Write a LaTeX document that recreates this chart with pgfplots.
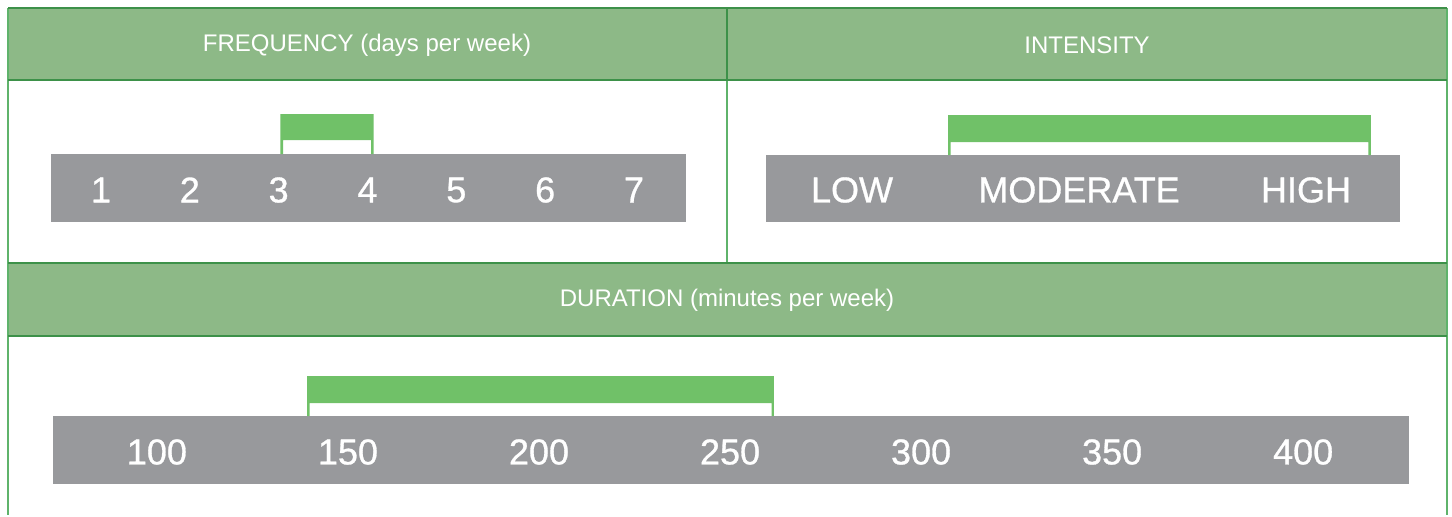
\documentclass[border=0pt]{standalone}
\usepackage{pgfplots}
\pgfplotsset{compat=1.18}
\usepackage{fontspec}
\setmainfont{Liberation Sans}
\newfontfamily\labelfont{Liberation Sans}[FakeBold=0.8]
\definecolor{hdrfill}{HTML}{8DB987}
\definecolor{hdrline}{HTML}{3D9149}
\definecolor{frameline}{HTML}{5FB36B}
\definecolor{brgreen}{HTML}{70C168}
\definecolor{bargray}{HTML}{98999C}
\pgfplotsset{
  scalebar/.style={
    scale only axis, anchor=south west, clip=false,
    ymin=0, ymax=1,
    axis background/.style={fill=bargray},
    axis line style={draw=none},
    major tick length=0pt, tick style={draw=none},
    ytick=\empty,
    xticklabel style={anchor=center, yshift=16pt, text=white, font=\labelfont\fontsize{18}{20}\selectfont},
  },
  bracket/.style={fill=brgreen, draw=none, mark=none},
}
\begin{document}
\begin{tikzpicture}
% background frame (pixel coordinates of a 1452 x 515 picture)
\begin{axis}[at={(0pt,0pt)}, anchor=north west, scale only axis,
  width=726pt, height=257.5pt, xmin=0, xmax=1452, ymin=0, ymax=515,
  y dir=reverse, hide axis, clip=false]
  \fill[white] (axis cs:0,0) rectangle (axis cs:1452,515);
  \fill[hdrfill] (axis cs:8,8) rectangle (axis cs:1447,80);
  \fill[hdrfill] (axis cs:8,263) rectangle (axis cs:1447,336);
  \draw[frameline, line width=1.1pt] (axis cs:8,8) -- (axis cs:8,515);
  \draw[frameline, line width=1.1pt] (axis cs:1447,8) -- (axis cs:1447,515);
  \draw[frameline, line width=1.1pt] (axis cs:727,80) -- (axis cs:727,263);
  \draw[hdrline, line width=1.1pt] (axis cs:8,8) -- (axis cs:1447,8);
  \draw[hdrline, line width=1.1pt] (axis cs:8,80) -- (axis cs:1447,80);
  \draw[hdrline, line width=1.1pt] (axis cs:727,8) -- (axis cs:727,80);
  \draw[hdrline, line width=1.1pt] (axis cs:8,263) -- (axis cs:1447,263);
  \draw[hdrline, line width=1.1pt] (axis cs:8,336) -- (axis cs:1447,336);
  \node[text=white, font=\fontsize{12}{14}\selectfont] at (axis cs:367,45) {FREQUENCY (days per week)};
  \node[text=white, font=\fontsize{12}{14}\selectfont] at (axis cs:1087,45) {INTENSITY};
  \node[text=white, font=\fontsize{12}{14}\selectfont] at (axis cs:727,300) {DURATION (minutes per week)};
\end{axis}
% FREQUENCY
\begin{axis}[scalebar, at={(25.5pt,-111pt)}, width=317.5pt, height=34pt,
  xmin=0.437, xmax=7.586,
  xtick={1,2,3,4,5,6,7}, xticklabels={1,2,3,4,5,6,7}]
  \addplot[bracket] coordinates {(3.02,1) (3.02,1.588) (4.07,1.588) (4.07,1)
    (4.04,1) (4.04,1.206) (3.05,1.206) (3.05,1)} -- cycle;
\end{axis}
% INTENSITY
\begin{axis}[scalebar, at={(383pt,-111pt)}, width=317pt, height=33.5pt,
  xmin=-0.379, xmax=2.414,
  xtick={0,1,2}, xticklabels={LOW,MODERATE,HIGH}]
  \addplot[bracket] coordinates {(0.423,1) (0.423,1.597) (2.286,1.597) (2.286,1)
    (2.275,1) (2.275,1.194) (0.434,1.194) (0.434,1)} -- cycle;
\end{axis}
% DURATION
\begin{axis}[scalebar, at={(26.5pt,-242pt)}, width=678pt, height=34pt,
  xmin=72.8, xmax=427.7,
  xtick={100,150,200,250,300,350,400},
  xticklabels={100,150,200,250,300,350,400}]
  \addplot[bracket] coordinates {(139.3,1) (139.3,1.588) (261.5,1.588) (261.5,1)
    (260.85,1) (260.85,1.191) (139.95,1.191) (139.95,1)} -- cycle;
\end{axis}
\end{tikzpicture}
\end{document}
